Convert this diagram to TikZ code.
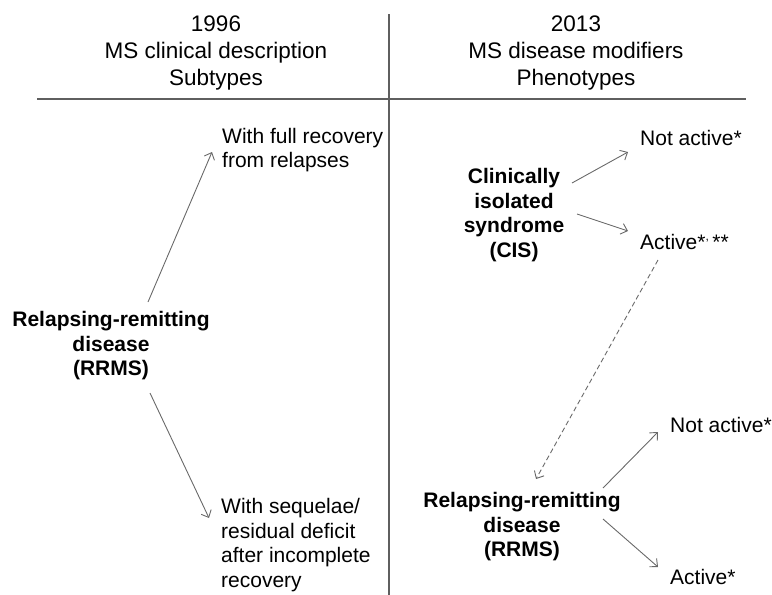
\documentclass[tikz,border=0pt]{standalone}
\usepackage{fontspec}
\setmainfont{Liberation Sans}
\usepackage{xcolor}
\definecolor{arrow_gray}{RGB}{105,105,105}
\definecolor{rule_gray}{RGB}{95,95,95}
\usetikzlibrary{arrows.meta}

\begin{document}
\begin{tikzpicture}[x=1pt, y=-1pt, inner sep=0pt,
  head/.style={align=center, font=\fontsize{22.5}{27}\selectfont},
  body/.style={align=left, anchor=west, font=\fontsize{21}{24.5}\selectfont},
  group/.style={align=center, font=\fontsize{21}{24.5}\selectfont\bfseries},
  link/.style={draw=arrow_gray, line width=0.9pt, -{Straight Barb[length=6pt,width=11pt]}}]
\useasboundingbox (0,0) rectangle (772,595);

\draw [draw=rule_gray, line width=1.2pt] (389,14) -- (389,595);
\draw [draw=rule_gray, line width=1.2pt] (37,99) -- (746,99);

\node [head] (head_old) at (216,53) {1996\\MS clinical description\\Subtypes};
\node [head] (head_new) at (576,53) {2013\\MS disease modifiers\\Phenotypes};

\node [group] (rrms_old) at (111,346) {Relapsing-remitting\\disease\\(RRMS)};
\node [body] (full_rec) at (222,150) {With full recovery\\from relapses};
\node [body] (sequelae) at (221,545) {With sequelae/\\residual deficit\\after incomplete\\recovery};
\draw [link] ([shift={(37,-44)}]rrms_old.center) -- ([shift={(-10,2)}]full_rec.west);
\draw [link] ([shift={(39,47)}]rrms_old.center) -- ([shift={(-12,-27)}]sequelae.west);

\node [group] (cis) at (514,215) {Clinically\\isolated\\syndrome\\(CIS)};
\node [body] (cis_not) at (640,138) {Not active*};
\node [body] (cis_act) at (640,242) {Active*\raisebox{0.8ex}{\fontsize{12}{12}\selectfont,}\,**};
\draw [link] ([shift={(58,-32)}]cis.center) -- ([shift={(-12,14)}]cis_not.west);
\draw [link] ([shift={(63,-1)}]cis.center) -- ([shift={(-12,-11)}]cis_act.west);

\node [group] (rrms_new) at (522,527) {Relapsing-remitting\\disease\\(RRMS)};
\node [body] (rr_not) at (670,425) {Not active*};
\node [body] (rr_act) at (670,577) {Active*};
\draw [link, dash pattern=on 5pt off 3pt] ([shift={(18,18)}]cis_act.west) -- ([shift={(14,-48)}]rrms_new.center);
\draw [link] ([shift={(81,-39)}]rrms_new.center) -- ([shift={(-12,7)}]rr_not.west);
\draw [link] ([shift={(81,-8)}]rrms_new.center) -- ([shift={(-12,-10)}]rr_act.west);

\end{tikzpicture}
\end{document}
